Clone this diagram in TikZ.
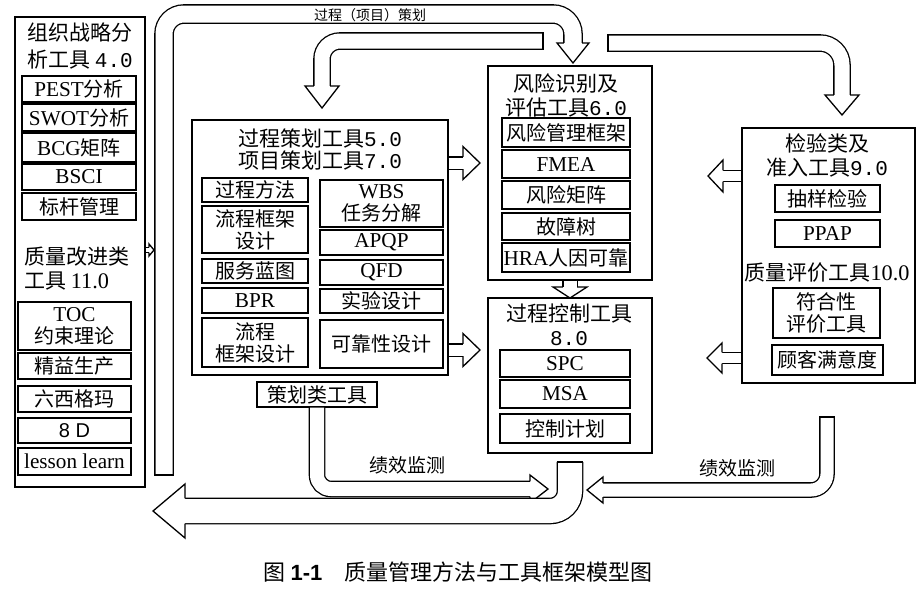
\documentclass[tikz,border=0pt]{standalone}
\usepackage{fontspec}
\setmainfont{Noto Sans CJK SC}
\newfontfamily\latf[Scale=1.06]{Liberation Serif}
\newfontfamily\monof{Liberation Mono}
\newfontfamily\arialf{Liberation Sans}
\newdimen\qmlw \qmlw=1.3pt
\tikzset{
  cell/.style={draw, line width=\qmlw, inner sep=0pt, align=center,
    font=\fontsize{20}{22}\selectfont},
  ttl/.style={inner sep=0pt, align=center, font=\fontsize{21}{24}\selectfont},
  fat/.style={draw, line width=\qmlw, double=white, double distance=#1},
}
% box from its corners: name, x1, y1, x2, y2, text
\newcommand\cellbox[6]{\node[cell, minimum width={(#4-#2)*1pt},
  minimum height={(#5-#3)*1pt}] (#1) at ({(#2+#4)/2},{(#3+#5)/2}) {#6};}
% hollow arrow head: base point, angle, half shaft, half head, length
\newcommand\arhead[5]{\path[draw, fill=white, line width=\qmlw,
  shift={(#1)}, rotate=#2] (0,#3) -- (0,#4) -- (#5,0) -- (0,-#4) -- (0,-#3);}
\begin{document}
\begin{tikzpicture}[x=1pt,y=-1pt]%
% coordinates in pixels of the 923x590 figure, y downwards
\path[fill=white,use as bounding box] (0,0) rectangle (923,590);
%
% left column: strategy and improvement tools
\cellbox{org}{15}{17}{145}{487}{}
\node[ttl, font=\fontsize{21}{27}\selectfont] (orgt) at (80,46) {组织战略分\\析工具 {\monof 4.0}};
\cellbox{pest}{22}{76}{136}{102}{{\latf PEST}分析}
\cellbox{swot}{22}{104}{136}{131}{{\latf SWOT}分析}
\cellbox{bcg}{22}{133}{136}{162}{{\latf BCG}矩阵}
\cellbox{bsci}{22}{164}{136}{190}{\latf BSCI}
\cellbox{bench}{22}{193}{136}{220}{标杆管理}
\node[ttl, anchor=west, align=left] (qualt) at (24,269) {质量改进类\\工具 {\latf 11.0}};
\cellbox{toc}{18}{302}{131}{350}{{\latf TOC}\\约束理论}
\cellbox{lean}{18}{353}{131}{379}{精益生产}
\cellbox{six}{18}{386}{131}{412}{六西格玛}
\cellbox{eightd}{18}{418}{131}{443}{\arialf 8 D}
\cellbox{lesson}{18}{448}{131}{475}{\latf lesson learn}
%
% process and project planning
\cellbox{plan}{192}{120}{448}{375}{}
\node[ttl, font=\fontsize{21}{22}\selectfont] (plant) at (320,149) {过程策划工具{\monof 5.0}\\项目策划工具{\monof 7.0}};
\cellbox{meth}{202}{178}{308}{202}{过程方法}
\cellbox{flowa}{202}{206}{308}{253}{流程框架\\设计}
\cellbox{blue}{202}{259}{308}{283}{服务蓝图}
\cellbox{bpr}{202}{288}{308}{313}{\latf BPR}
\cellbox{flowb}{202}{318}{308}{367}{流程\\框架设计}
\cellbox{wbs}{320}{180}{443}{227}{{\latf WBS}\\任务分解}
\cellbox{apqp}{320}{230}{443}{255}{\latf APQP}
\cellbox{qfd}{320}{260}{443}{285}{\latf QFD}
\cellbox{doe}{320}{289}{443}{313}{实验设计}
\cellbox{rel}{320}{320}{443}{368}{可靠性设计}
\cellbox{tools}{257}{382}{377}{407}{策划类工具}
%
% risk and control
\cellbox{risk}{488}{66}{652}{280}{}
\node[ttl] (riskt) at (566,95) {风险识别及\\评估工具{\monof 6.0}};
\cellbox{rmf}{502}{118}{630}{147}{风险管理框架}
\cellbox{fmea}{502}{150}{630}{178}{\latf FMEA}
\cellbox{rmat}{502}{181}{630}{209}{风险矩阵}
\cellbox{fta}{502}{213}{630}{240}{故障树}
\cellbox{hra}{502}{243}{630}{272}{{\latf HRA}人因可靠}
\cellbox{ctrl}{488}{298}{652}{453}{}
\node[ttl] (ctrlt) at (569,325) {过程控制工具\\{\monof 8.0}};
\cellbox{spc}{500}{350}{630}{377}{\latf SPC}
\cellbox{msa}{500}{380}{630}{408}{\latf MSA}
\cellbox{cp}{500}{414}{630}{443}{控制计划}
%
% inspection and evaluation
\cellbox{insp}{742}{128}{915}{383}{}
\node[ttl] (inspt) at (827,155) {检验类及\\准入工具{\monof 9.0}};
\cellbox{samp}{775}{185}{880}{212}{抽样检验}
\cellbox{ppap}{775}{220}{880}{247}{\latf PPAP}
\node[ttl] (evalt) at (827,273) {质量评价工具{\latf 10.0}};
\cellbox{conf}{773}{288}{880}{338}{符合性\\评价工具}
\cellbox{cust}{772}{345}{883}{375}{顾客满意度}
%
% wide arrows
\coordinate (bar) at (164,475);
\coordinate (h1) at (573,43);
\draw[fat=17pt, rounded corners=20pt] (bar) -- (164,14) -- (573,14) -- (h1);
\draw[line width=\qmlw] (154.2,475) -- (173.8,475);
\arhead{h1}{-90}{9.15}{16}{20}
\node[inner sep=0pt, font=\fontsize{14}{14}\selectfont] (lplan) at (370,15) {过程（项目）策划};
\coordinate (t2) at (543,41);
\coordinate (h2) at (322,86);
\draw[fat=15pt, rounded corners=18pt] (t2) -- (322,41) -- (h2);
\draw[line width=\qmlw] (543,32.2) -- (543,49.8);
\arhead{h2}{-90}{8.15}{17}{22}
\coordinate (t3) at (608,43);
\coordinate (h3) at (842,95);
\draw[fat=15pt, rounded corners=22pt] (t3) -- (842,43) -- (h3);
\draw[line width=\qmlw] (608,34.2) -- (608,51.8);
\arhead{h3}{-90}{8.15}{17}{20}
%
\coordinate (h4) at (463,163);
\draw[fat=11pt] (plan.east |- h4) -- (h4);
\arhead{h4}{0}{6.15}{16.5}{17}
\coordinate (h5) at (463,350);
\draw[fat=11pt] (plan.east |- h5) -- (h5);
\arhead{h5}{0}{6.15}{16.5}{17}
\coordinate (h6) at (570,287);
\draw[fat=13pt] (risk.south -| h6) -- (h6);
\arhead{h6}{-90}{7.15}{17}{11}
\coordinate (h7) at (723,176);
\draw[fat=10pt] (insp.west |- h7) -- (h7);
\arhead{h7}{180}{5.65}{16}{15}
\coordinate (h8) at (722,358);
\draw[fat=10pt] (insp.west |- h8) -- (h8);
\arhead{h8}{180}{5.65}{15}{15}
\coordinate (h9) at (149,250);
\draw[fat=4pt] (org.east |- h9) -- (h9);
\arhead{h9}{0}{2.65}{6}{5}
%
% performance monitoring
\coordinate (h10) at (530,489);
\draw[fat=14pt, rounded corners=14pt] (tools.south) -- (317,489) -- (h10);
\arhead{h10}{0}{7.65}{14}{18}
\coordinate (tl) at (570,462);
\coordinate (h11) at (185,511);
\draw[fat=24pt, rounded corners=20pt] (tl) -- (570,511) -- (h11);
\draw[line width=\qmlw] (556.7,462) -- (583.3,462);
\arhead{h11}{180}{12.65}{27}{32}
\coordinate (tb) at (827,417);
\coordinate (h12) at (603,490);
\draw[fat=13pt, rounded corners=16pt] (tb) -- (827,490) -- (h12);
\draw[line width=\qmlw] (819.2,417) -- (834.8,417);
\arhead{h12}{180}{7.15}{13}{16}
\node[inner sep=0pt, font=\fontsize{19}{19}\selectfont] (perfa) at (407,465) {绩效监测};
\node[inner sep=0pt, font=\fontsize{19}{19}\selectfont] (perfb) at (737,468) {绩效监测};
%
\node[inner sep=0pt, font=\fontsize{22}{22}\selectfont] (cap) at (458,572) {图 {\arialf\bfseries 1-1}\quad 质量管理方法与工具框架模型图};
\end{tikzpicture}
\end{document}
